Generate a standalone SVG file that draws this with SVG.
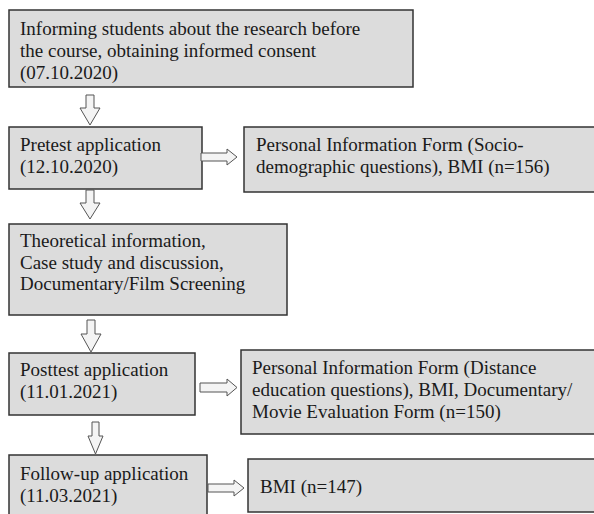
<svg xmlns="http://www.w3.org/2000/svg" width="594" height="514" viewBox="0 0 594 514">
<style>
.box{fill:#dcdcdc;stroke:#333;stroke-width:1.5}
.arr{fill:#f4f4f4;stroke:#555;stroke-width:1}
</style>
<rect width="594" height="514" fill="#fff"/>
<g font-family="Liberation Serif, Times New Roman, DejaVu Serif, serif" font-size="19" fill="#1a1a1a">
<g id="n1"><rect class="box" x="9" y="10" width="404" height="77"/>
<text x="20" y="35">Informing students about the research before</text>
<text x="20" y="57">the course, obtaining informed consent</text>
<text x="20" y="79">(07.10.2020)</text></g>
<g id="n2"><rect class="box" x="9" y="127" width="193" height="62"/>
<text x="20" y="151">Pretest application</text>
<text x="20" y="173">(12.10.2020)</text></g>
<g id="n3"><rect class="box" x="244" y="127" width="355" height="65"/>
<text x="256" y="151">Personal Information Form (Socio-</text>
<text x="256" y="173">demographic questions), BMI (n=156)</text></g>
<g id="n4"><rect class="box" x="9" y="224" width="278" height="91"/>
<text x="20" y="247">Theoretical information,</text>
<text x="20" y="268.5">Case study and discussion,</text>
<text x="20" y="290">Documentary/Film Screening</text></g>
<g id="n5"><rect class="box" x="9" y="353" width="186" height="62"/>
<text x="20" y="376">Posttest application</text>
<text x="20" y="398">(11.01.2021)</text></g>
<g id="n6"><rect class="box" x="241" y="350" width="358" height="84"/>
<text x="252" y="374">Personal Information Form (Distance</text>
<text x="252" y="396">education questions), BMI, Documentary/</text>
<text x="252" y="418">Movie Evaluation Form (n=150)</text></g>
<g id="n7"><rect class="box" x="9" y="455" width="198" height="65"/>
<text x="20" y="480">Follow-up application</text>
<text x="20" y="502">(11.03.2021)</text></g>
<g id="n8"><rect class="box" x="248" y="459" width="351" height="53"/>
<text x="260" y="493">BMI (n=147)</text></g>
</g>
<g id="connectors">
<path class="arr" d="M86,95 H94 V108 H100 L90,125 L80,108 H86 Z"/>
<path class="arr" d="M86,190 H94 V203 H100 L90,219 L80,203 H86 Z"/>
<path class="arr" d="M87,320 H95 V334 H101 L91,352 L81,334 H87 Z"/>
<path class="arr" d="M92,422 H99 V436 H103 L95.5,454 L88,436 H92 Z"/>
<path class="arr" d="M201,153 H227 V149 L237,157 L227,165 V161 H201 Z"/>
<path class="arr" d="M200,383 H227 V379 L237,387.5 L227,396 V392 H200 Z"/>
<path class="arr" d="M208,484 H234 V480 L244,488 L234,496 V492 H208 Z"/>
</g>
</svg>
